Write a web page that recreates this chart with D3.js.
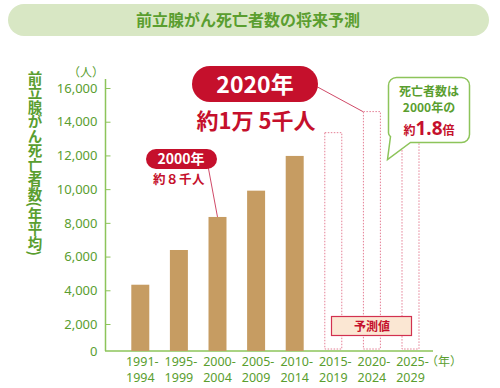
<!DOCTYPE html>
<html>
<head>
<meta charset="utf-8">
<script src="https://cdn.jsdelivr.net/npm/d3@7"></script>
<style>
  body { margin: 0; background: #fff; }
  svg { display: block; font-family: "Noto Sans CJK JP", "Noto Sans", sans-serif; }
</style>
</head>
<body>
<script>
// data
var periods = ["1991-1994", "1995-1999", "2000-2004", "2005-2009", "2010-2014", "2015-2019", "2020-2024", "2025-2029"];
var deaths = [4330, 6390, 8350, 9910, 11970];      // observed
var forecast = [13350, 14600, 15800];              // predicted (dotted)
var yTicks = [0, 2000, 4000, 6000, 8000, 10000, 12000, 14000, 16000];

var green = "#5a9e2f";
var axisGreen = "#8dc45a";
var red = "#c5102c";
var tan = "#c69c62";
var pink = "#e47f95";

var svg = d3.select("body").append("svg").attr("width", 500).attr("height", 388);

// title
svg.append("rect")
  .attr("x", 8).attr("y", 4).attr("width", 481).attr("height", 32).attr("rx", 16)
  .attr("fill", "#d8e7c4");
svg.append("text")
  .attr("x", 248).attr("y", 26).attr("text-anchor", "middle")
  .attr("fill", green).attr("font-size", 16).attr("font-weight", "bold")
  .text("前立腺がん死亡者数の将来予測");

// scales (the 0 step is shorter in the original, so use a piecewise scale)
var y = d3.scaleLinear().domain([0, 2000, 16000]).range([351, 324, 88]);
var x = d3.scaleBand().domain(periods).range([112, 438.8]).paddingInner(0.534).paddingOuter(0.5);

// y axis
var yAxis = svg.append("g")
  .attr("transform", "translate(105.5,0)")
  .call(d3.axisLeft(y).tickValues(yTicks).tickSize(-5).tickPadding(8).tickFormat(d3.format(",")));
yAxis.select(".domain").remove();
yAxis.selectAll(".tick line").attr("stroke", axisGreen);
yAxis.selectAll(".tick").filter(d => d === 0).select("line").remove();
yAxis.selectAll("text")
  .attr("fill", green).attr("font-size", 13).attr("font-family", "'Noto Sans', sans-serif");

svg.append("line")
  .attr("x1", 105.5).attr("x2", 105.5).attr("y1", y(16000) - 9).attr("y2", y(0))
  .attr("stroke", axisGreen).attr("stroke-width", 1.5);
svg.append("line")
  .attr("x1", 105).attr("x2", 433).attr("y1", y(0)).attr("y2", y(0))
  .attr("stroke", axisGreen).attr("stroke-width", 1.5);

svg.append("text")
  .attr("x", 86).attr("y", 77).attr("text-anchor", "middle")
  .attr("fill", green).attr("font-size", 12)
  .text("（人）");

svg.append("text")
  .attr("x", 35).attr("y", 71)
  .attr("writing-mode", "vertical-rl")
  .attr("fill", green).attr("font-size", 14.5).attr("font-weight", "bold")
  .text("前立腺がん死亡者数(年平均)");

// x labels
var xl = svg.append("g").selectAll("text")
  .data(periods)
  .enter()
  .append("text")
  .attr("text-anchor", "middle")
  .attr("fill", green).attr("font-size", 12.5).attr("font-family", "'Noto Sans', sans-serif");
xl.append("tspan")
  .attr("x", d => x(d) + x.bandwidth() / 2 + 2).attr("y", 366)
  .text(d => d.split("-")[0] + "-");
xl.append("tspan")
  .attr("x", d => x(d) + x.bandwidth() / 2).attr("y", 382)
  .text(d => d.split("-")[1]);
svg.append("text")
  .attr("x", 444).attr("y", 366).attr("text-anchor", "middle")
  .attr("fill", green).attr("font-size", 12)
  .text("（年）");

// observed bars
svg.append("g").selectAll("rect")
  .data(deaths)
  .enter()
  .append("rect")
  .attr("x", (d, i) => x(periods[i]))
  .attr("width", x.bandwidth())
  .attr("y", d => y(d))
  .attr("height", d => y(0) - y(d))
  .attr("fill", tan);

// forecast bars (dotted outline)
svg.append("g").selectAll("rect")
  .data(forecast)
  .enter()
  .append("rect")
  .attr("x", (d, i) => x(periods[i + deaths.length]) + 0.5)
  .attr("width", x.bandwidth() - 1)
  .attr("y", d => y(d))
  .attr("height", d => y(0) - 2 - y(d))
  .attr("fill", "none")
  .attr("stroke", pink).attr("stroke-width", 1)
  .attr("stroke-dasharray", "1.5,1.5");

// 予測値 box
svg.append("rect")
  .attr("x", 331.5).attr("y", 316.5).attr("width", 80).attr("height", 19)
  .attr("fill", "#fbe7d3").attr("stroke", "#d2314f").attr("stroke-width", 1.2);
svg.append("text")
  .attr("x", 372).attr("y", 331).attr("text-anchor", "middle")
  .attr("fill", red).attr("font-size", 12).attr("font-weight", "bold")
  .text("予測値");

// 2000 label
var x2000 = x(periods[2]) + x.bandwidth() / 2;
svg.append("line")
  .attr("x1", 208).attr("y1", 166).attr("x2", x2000).attr("y2", y(deaths[2]))
  .attr("stroke", "#d04a68").attr("stroke-width", 1);
svg.append("rect")
  .attr("x", 146).attr("y", 149).attr("width", 71).attr("height", 20).attr("rx", 10)
  .attr("fill", red);
svg.append("text")
  .attr("x", 181).attr("y", 164).attr("text-anchor", "middle")
  .attr("fill", "#fff").attr("font-size", 14).attr("font-weight", "bold")
  .text("2000年");
svg.append("text")
  .attr("x", 179).attr("y", 184).attr("text-anchor", "middle")
  .attr("fill", red).attr("font-size", 12.5).attr("font-weight", "bold")
  .attr("letter-spacing", 0.5)
  .text("約８千人");

// 2020 label
var x2020 = x(periods[6]);
svg.append("line")
  .attr("x1", 312).attr("y1", 84).attr("x2", x2020).attr("y2", y(forecast[1]))
  .attr("stroke", "#d04a68").attr("stroke-width", 1);
svg.append("rect")
  .attr("x", 192).attr("y", 66).attr("width", 126).attr("height", 36).attr("rx", 18)
  .attr("fill", red);
svg.append("text")
  .attr("x", 255).attr("y", 93).attr("text-anchor", "middle")
  .attr("fill", "#fff").attr("font-size", 23).attr("font-weight", "bold")
  .text("2020年");
svg.append("text")
  .attr("x", 256).attr("y", 129).attr("text-anchor", "middle")
  .attr("fill", red).attr("font-size", 22).attr("font-weight", "bold")
  .text("約1万 5千人");

// speech bubble
var bx = 388.5, by = 77.5, bw = 81, bh = 65, r = 8;
var bubble = d3.path();
bubble.moveTo(bx + r, by);
bubble.lineTo(bx + bw - r, by);
bubble.arcTo(bx + bw, by, bx + bw, by + r, r);
bubble.lineTo(bx + bw, by + bh - r);
bubble.arcTo(bx + bw, by + bh, bx + bw - r, by + bh, r);
bubble.lineTo(bx + 22, by + bh);
bubble.lineTo(bx - 1, by + bh + 17);
bubble.lineTo(bx + 2, by + bh - 6);
bubble.arcTo(bx, by + bh - 8, bx, by + bh - 14, 4);
bubble.lineTo(bx, by + r);
bubble.arcTo(bx, by, bx + r, by, r);
bubble.closePath();
svg.append("path")
  .attr("d", bubble.toString())
  .attr("fill", "#fff").attr("stroke", axisGreen).attr("stroke-width", 1.5);
svg.append("text")
  .attr("x", 429).attr("y", 96).attr("text-anchor", "middle")
  .attr("fill", green).attr("font-size", 12).attr("font-weight", "bold")
  .text("死亡者数は");
svg.append("text")
  .attr("x", 429).attr("y", 112).attr("text-anchor", "middle")
  .attr("fill", green).attr("font-size", 12).attr("font-weight", "bold")
  .text("2000年の");
var t = svg.append("text")
  .attr("x", 429).attr("y", 135).attr("text-anchor", "middle")
  .attr("fill", red).attr("font-weight", "bold");
t.append("tspan").attr("font-size", 12).text("約");
t.append("tspan").attr("font-size", 19).attr("font-family", "'Noto Sans', sans-serif").text("1.8");
t.append("tspan").attr("font-size", 12).text("倍");
</script>
</body>
</html>
